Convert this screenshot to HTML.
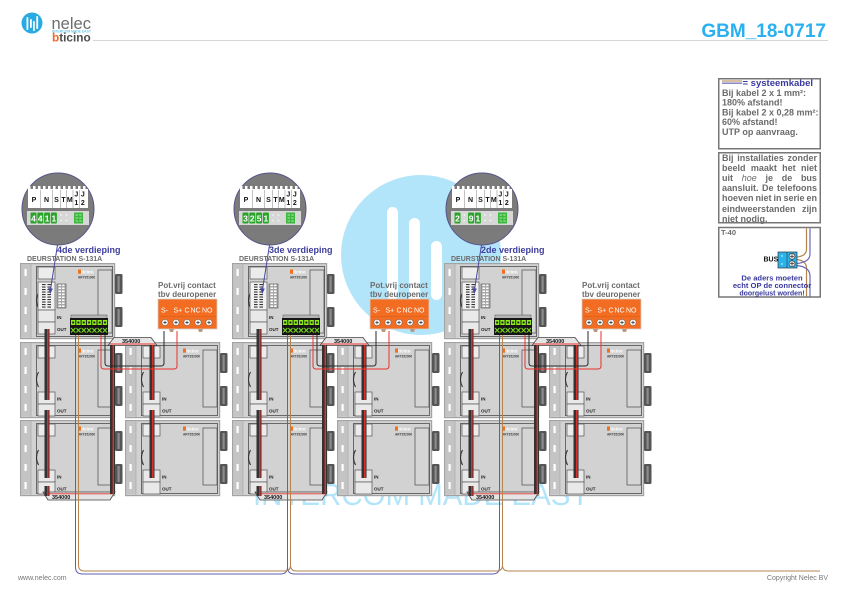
<!DOCTYPE html>
<html><head><meta charset="utf-8">
<style>
html,body{margin:0;padding:0;background:#fff;}
body{width:841px;height:595px;overflow:hidden;position:relative;font-family:"Liberation Sans",Arial,sans-serif;}
svg{position:absolute;left:0;top:0;}
.lv{font:bold 9px "Liberation Sans",sans-serif;fill:#3d3d9c}
.dn{font:bold 7px "Liberation Sans",sans-serif;fill:#6a6a6a}
.pv{font:bold 8px "Liberation Sans",sans-serif;fill:#6a6a6a}
.sl{font:7px "Liberation Sans",sans-serif;fill:#fff}
.cn{font:bold 5.5px "Liberation Sans",sans-serif;fill:#111}
.io{font:bold 4.5px "Liberation Sans",sans-serif;fill:#222}
.tc{font:bold 4.6px "Liberation Sans",sans-serif;fill:#fff}
.ar{font:bold 3.2px "Liberation Sans",sans-serif;fill:#444}
.cl{font:bold 7px "Liberation Sans",sans-serif;fill:#111;text-anchor:middle}
.dg{font:bold 8.5px "Liberation Sans",sans-serif;fill:#fff;text-anchor:middle}
.bx{font:bold 9px "Liberation Sans",sans-serif;fill:#6b6b6b}
.bb{font:bold 7.6px "Liberation Sans",sans-serif;fill:#3838a0;text-anchor:middle}
.j{position:absolute;left:722px;width:95px;font:bold 9px "Liberation Sans",sans-serif;color:#6b6b6b;line-height:10.2px;}
.ln{display:flex;justify-content:space-between;height:10.2px;white-space:nowrap;}
</style></head>
<body>
<svg width="841" height="595" viewBox="0 0 841 595" xmlns="http://www.w3.org/2000/svg" font-family="Liberation Sans, Arial, sans-serif">
<defs>
 <pattern id="lad" x="22" y="21" width="9" height="2.5" patternUnits="userSpaceOnUse"><rect width="3.6" height="1.1" fill="#333"/><rect x="5.4" width="3.6" height="1.1" fill="#333"/></pattern>
 <pattern id="cw" x="37" y="21" width="9" height="3" patternUnits="userSpaceOnUse"><rect x="1.5" y="0.5" width="2.5" height="1.5" fill="#fff"/><rect x="5" y="0.5" width="2.5" height="1.5" fill="#fff"/></pattern>
 <pattern id="gt" x="50.5" y="57" width="5.3" height="6" patternUnits="userSpaceOnUse"><rect x="0.5" width="4.3" height="5" fill="#8ef01c"/><rect x="1.7" y="1.5" width="1.9" height="2" fill="#1a1a1a"/></pattern>
 <pattern id="gx" x="50.5" y="64.5" width="5.3" height="6" patternUnits="userSpaceOnUse"><path d="M0.5,0.5 L4.8,5 M4.8,0.5 L0.5,5" stroke="#7be01c" stroke-width="1"/></pattern>
 <pattern id="teeth" x="28" y="0" width="5" height="4" patternUnits="userSpaceOnUse"><rect width="2.5" height="4" fill="#fff"/></pattern>

 <g id="mb">
  <rect x="0.6" y="0.6" width="94" height="75" fill="#d2d2d2" stroke="#a3a3a3" stroke-width="1.2"/>
  <rect x="1.5" y="1.5" width="9.5" height="73" fill="#c4c4c4"/>
  <line x1="11" y1="1" x2="11" y2="75" stroke="#a9a9a9" stroke-width="0.7"/>
  <rect x="4.5" y="6" width="2.2" height="7" fill="#fff"/>
  <rect x="4.5" y="25" width="2.2" height="7" fill="#fff"/>
  <rect x="4.5" y="44" width="2.2" height="7" fill="#fff"/>
  <rect x="4.5" y="62" width="2.2" height="7" fill="#fff"/>
  <rect x="16.5" y="3.5" width="76" height="70" fill="none" stroke="#3c3c3c" stroke-width="0.7"/>
  <path d="M18.5,30 Q14.5,37.5 18.5,45" fill="none" stroke="#333" stroke-width="1.1"/>
  <rect x="95" y="11" width="7.5" height="20" rx="1.2" fill="#555"/>
  <rect x="97.5" y="13" width="2.2" height="16" fill="#8c8c8c"/>
  <rect x="95" y="44" width="7.5" height="20" rx="1.2" fill="#555"/>
  <rect x="97.5" y="46" width="2.2" height="16" fill="#8c8c8c"/>
 </g>
 <g id="m2">
  <use href="#mb"/>
  <rect x="18" y="4" width="17" height="12" fill="#ececec" stroke="#555" stroke-width="0.7"/>
  <rect x="78" y="8" width="14" height="57" fill="#d5d5d5" stroke="#4a4a4a" stroke-width="0.7"/>
  <rect x="18" y="50" width="17" height="12" fill="#e9e9e9" stroke="#555" stroke-width="0.7"/>
  <rect x="18" y="62" width="17" height="12" fill="#e9e9e9" stroke="#555" stroke-width="0.7"/>
  <rect x="58" y="6.5" width="3" height="4.2" fill="#f07020"/>
 </g>
 <g id="ds">
  <use href="#mb"/>
  <rect x="18" y="4" width="17" height="12" fill="#ececec" stroke="#555" stroke-width="0.7"/>
  <rect x="18" y="19" width="17" height="28" fill="#f2f2f2" stroke="#555" stroke-width="0.7"/>
  <rect x="22" y="21" width="9" height="24" fill="url(#lad)"/>
  <rect x="37" y="21" width="9" height="24" fill="#a8a8a8" stroke="#555" stroke-width="0.6"/>
  <rect x="37" y="21" width="9" height="24" fill="url(#cw)"/>
  <rect x="18" y="47" width="17" height="12" fill="#e9e9e9" stroke="#555" stroke-width="0.7"/>
  <rect x="18" y="59" width="17" height="12" fill="#e9e9e9" stroke="#555" stroke-width="0.7"/>
  <rect x="78" y="7" width="14" height="63" fill="#d5d5d5" stroke="#4a4a4a" stroke-width="0.7"/>
  <rect x="58" y="6.5" width="3" height="4.2" fill="#f07020"/>
  <rect x="51" y="52" width="36" height="4" fill="#b5b5b5" stroke="#555" stroke-width="0.5"/>
  <rect x="50" y="55" width="38" height="17" fill="#151515"/>
  <rect x="50.5" y="57" width="37" height="6" fill="url(#gt)"/>
  <rect x="50.5" y="64.5" width="37" height="6" fill="url(#gx)"/>
 </g>

 <g id="G">
  <use href="#ds" x="20" y="263"/>
  <use href="#m2" x="20" y="342"/>
  <use href="#m2" x="20" y="420"/>
  <use href="#m2" x="125" y="342"/>
  <use href="#m2" x="125" y="420"/>
  <!-- connectors -->
  <path d="M108,345.5 L114,337.5 H151 L157,345.5Z" fill="#e4e4e4" stroke="#444" stroke-width="0.8"/>
  <line x1="109" y1="344" x2="156" y2="344" stroke="#e8322b" stroke-width="0.9"/>
  <path d="M43,492 H115 L110,500 H48Z" fill="#e4e4e4" stroke="#444" stroke-width="0.8"/>
  <line x1="44" y1="493.8" x2="114" y2="493.8" stroke="#e8322b" stroke-width="0.9"/>
  <!-- cables -->
  <path d="M47,329V400M47,410V478M47,486V496M112.5,345V494M152,345V400M152,410V478" stroke="#333" stroke-width="5" fill="none"/>
  <path d="M47.8,329V400M47.8,410V478M47.8,486V496M113.3,345V494M152.8,345V400M152.8,410V478" stroke="#e8322b" stroke-width="1.4" fill="none"/>
  <!-- wires -->
  <path d="M101,335V366Q101,369 104,369H174Q177,369 177,366V331" fill="none" stroke="#e8322b" stroke-width="1"/>
  <path d="M105,335V363Q105,366 108,366H161Q164,366 164,363V331" fill="none" stroke="#2a2a2a" stroke-width="1"/>
  <!-- orange box -->
  <rect x="158" y="299" width="59" height="30" fill="#f26d21" stroke="#cfcfcf" stroke-width="0.8"/>
  <line x1="158.5" y1="316.5" x2="216.5" y2="316.5" stroke="#d85a12" stroke-width="0.6"/>
  <g fill="#fff" stroke="#555" stroke-width="0.5">
   <circle cx="165" cy="322.5" r="3.1"/><circle cx="176" cy="322.5" r="3.1"/><circle cx="187" cy="322.5" r="3.1"/><circle cx="198" cy="322.5" r="3.1"/><circle cx="209" cy="322.5" r="3.1"/>
  </g>
  <path d="M163.3,322.5h3.4M165,320.8v3.4M174.3,322.5h3.4M176,320.8v3.4M185.3,322.5h3.4M187,320.8v3.4M196.3,322.5h3.4M198,320.8v3.4M207.3,322.5h3.4M209,320.8v3.4" stroke="#333" stroke-width="0.8"/>
  <path d="M169,329h5l-1,3h-3z" fill="#b89a80"/>
  <path d="M198,329h5l-1,3h-3z" fill="#b89a80"/>
  <!-- callout -->
  <circle cx="58" cy="209" r="36" fill="#7b7b7b" stroke="#55558a" stroke-width="1"/>
  <rect x="28" y="189" width="60" height="19" fill="#fff"/>
  <rect x="28" y="186" width="60" height="3" fill="url(#teeth)"/>
  <path d="M40.5,190V208M52.5,190V208M60.5,190V208M66.5,190V208M73,190V208M79.5,190V208" stroke="#9a9a9a" stroke-width="0.6"/>
  <rect x="27" y="211" width="62" height="14" fill="#d7d7d7"/>
  <rect x="74" y="212.5" width="9" height="11" fill="#3cb83c"/>
  <path d="M75.5,215h2.5M79.2,215h2.5M75.5,218h2.5M79.2,218h2.5M75.5,221h2.5M79.2,221h2.5" stroke="#d8f5d8" stroke-width="0.8"/>
  <g fill="#f4fff0"><circle cx="61" cy="215" r="0.8"/><circle cx="61" cy="220.5" r="0.8"/><circle cx="66.5" cy="215" r="0.8"/><circle cx="66.5" cy="220.5" r="0.8"/></g>
  <path d="M57.5,245 L50.6,289" stroke="#4848a0" stroke-width="1" fill="none"/>
  <path d="M48.2,288 L50.3,294 L52.8,288.6Z" fill="#4848a0"/>
 </g>
</defs>

<!-- watermark -->
<circle cx="421" cy="255" r="80" fill="#b3e5fa"/>
<rect x="387" y="207" width="11" height="93" rx="5.5" fill="#fff"/>
<rect x="409" y="218" width="11" height="100" rx="5.5" fill="#fff"/>
<rect x="431" y="241" width="11" height="59" rx="5.5" fill="#fff"/>
<text x="253" y="505" font-size="31" fill="#b3e5fa" textLength="337" lengthAdjust="spacingAndGlyphs">INTERCOM MADE EASY</text>

<!-- header -->
<circle cx="32" cy="23" r="10.5" fill="#29abe2"/>
<rect x="26.5" y="17" width="1.8" height="13" rx="0.9" fill="#fff"/>
<rect x="30" y="19" width="1.8" height="9" rx="0.9" fill="#fff"/>
<rect x="33" y="21" width="1.8" height="10" rx="0.9" fill="#fff"/>
<rect x="36.3" y="16" width="1.8" height="13" rx="0.9" fill="#fff"/>
<text x="51.5" y="29" font-size="16.5" fill="#6d6d6d">nelec</text>
<text x="52" y="32.4" font-size="3.4" fill="#29abe2" textLength="39" lengthAdjust="spacingAndGlyphs">INTERCOM MADE EASY</text>
<text x="52" y="41.5" font-weight="bold" font-size="11.8"><tspan fill="#f26522">b</tspan><tspan fill="#4d4d4d">ticino</tspan></text>
<line x1="93" y1="40.5" x2="828" y2="40.5" stroke="#d6d6d6" stroke-width="1"/>
<text x="826" y="37" text-anchor="end" font-weight="bold" font-size="19" fill="#2ab0f0">GBM_18-0717</text>

<!-- groups -->
<use href="#G"/>
<use href="#G" x="212"/>
<use href="#G" x="424"/>

<!-- group 1 text -->
<g>
 <text x="57" y="253" class="lv">4de verdieping</text>
 <text x="27" y="261" class="dn">DEURSTATION S-131A</text>
 <text x="34" y="202" class="cl">P</text><text x="46.5" y="202" class="cl">N</text><text x="56.5" y="202" class="cl">S</text><text x="63.5" y="202" class="cl">T</text><text x="69.8" y="202" class="cl">M</text>
 <text x="76.3" y="196.5" class="cl">J</text><text x="76.3" y="205" class="cl">1</text><text x="82.8" y="196.5" class="cl">J</text><text x="82.8" y="205" class="cl">2</text>
 <rect x="30.5" y="212.5" width="6" height="11" rx="1" fill="#2aa52a"/><rect x="37.3" y="212.5" width="6" height="11" rx="1" fill="#2aa52a"/><rect x="44.1" y="212.5" width="6" height="11" rx="1" fill="#2aa52a"/><rect x="50.9" y="212.5" width="6" height="11" rx="1" fill="#2aa52a"/>
 <text x="33.5" y="221.5" class="dg">4</text><text x="40.3" y="221.5" class="dg">4</text><text x="47.1" y="221.5" class="dg">1</text><text x="53.9" y="221.5" class="dg">1</text>
 <text x="158" y="288" class="pv">Pot.vrij contact</text><text x="158" y="297" class="pv">tbv deuropener</text>
 <text x="161" y="312.5" class="sl">S-</text><text x="173.5" y="312.5" class="sl">S+</text><text x="184.5" y="312.5" class="sl">C</text><text x="190.5" y="312.5" class="sl">NC</text><text x="202" y="312.5" class="sl">NO</text>
 <text x="122" y="343" class="cn">354000</text><text x="52" y="499" class="cn">354000</text>
 <g transform="translate(20,263)"><text x="37" y="56" class="io">IN</text><text x="37" y="68" class="io">OUT</text><text x="61.3" y="10.6" class="tc">ticino</text><text x="58" y="15.5" class="ar">ART351000</text></g>
 <g transform="translate(20,342)"><text x="37" y="58.5" class="io">IN</text><text x="37" y="70.5" class="io">OUT</text><text x="61.3" y="10.6" class="tc">ticino</text><text x="58" y="15.5" class="ar">ART352000</text></g>
 <g transform="translate(20,420)"><text x="37" y="58.5" class="io">IN</text><text x="37" y="70.5" class="io">OUT</text><text x="61.3" y="10.6" class="tc">ticino</text><text x="58" y="15.5" class="ar">ART352000</text></g>
 <g transform="translate(125,342)"><text x="37" y="58.5" class="io">IN</text><text x="37" y="70.5" class="io">OUT</text><text x="61.3" y="10.6" class="tc">ticino</text><text x="58" y="15.5" class="ar">ART352000</text></g>
 <g transform="translate(125,420)"><text x="37" y="58.5" class="io">IN</text><text x="37" y="70.5" class="io">OUT</text><text x="61.3" y="10.6" class="tc">ticino</text><text x="58" y="15.5" class="ar">ART352000</text></g>
</g>

<!-- group 2 text -->
<g transform="translate(212,0)">
 <text x="57" y="253" class="lv">3de verdieping</text>
 <text x="27" y="261" class="dn">DEURSTATION S-131A</text>
 <text x="34" y="202" class="cl">P</text><text x="46.5" y="202" class="cl">N</text><text x="56.5" y="202" class="cl">S</text><text x="63.5" y="202" class="cl">T</text><text x="69.8" y="202" class="cl">M</text>
 <text x="76.3" y="196.5" class="cl">J</text><text x="76.3" y="205" class="cl">1</text><text x="82.8" y="196.5" class="cl">J</text><text x="82.8" y="205" class="cl">2</text>
 <rect x="30.5" y="212.5" width="6" height="11" rx="1" fill="#2aa52a"/><rect x="37.3" y="212.5" width="6" height="11" rx="1" fill="#2aa52a"/><rect x="44.1" y="212.5" width="6" height="11" rx="1" fill="#2aa52a"/><rect x="50.9" y="212.5" width="6" height="11" rx="1" fill="#2aa52a"/>
 <text x="33.5" y="221.5" class="dg">3</text><text x="40.3" y="221.5" class="dg">2</text><text x="47.1" y="221.5" class="dg">5</text><text x="53.9" y="221.5" class="dg">1</text>
 <text x="158" y="288" class="pv">Pot.vrij contact</text><text x="158" y="297" class="pv">tbv deuropener</text>
 <text x="161" y="312.5" class="sl">S-</text><text x="173.5" y="312.5" class="sl">S+</text><text x="184.5" y="312.5" class="sl">C</text><text x="190.5" y="312.5" class="sl">NC</text><text x="202" y="312.5" class="sl">NO</text>
 <text x="122" y="343" class="cn">354000</text><text x="52" y="499" class="cn">354000</text>
 <g transform="translate(20,263)"><text x="37" y="56" class="io">IN</text><text x="37" y="68" class="io">OUT</text><text x="61.3" y="10.6" class="tc">ticino</text><text x="58" y="15.5" class="ar">ART351000</text></g>
 <g transform="translate(20,342)"><text x="37" y="58.5" class="io">IN</text><text x="37" y="70.5" class="io">OUT</text><text x="61.3" y="10.6" class="tc">ticino</text><text x="58" y="15.5" class="ar">ART352000</text></g>
 <g transform="translate(20,420)"><text x="37" y="58.5" class="io">IN</text><text x="37" y="70.5" class="io">OUT</text><text x="61.3" y="10.6" class="tc">ticino</text><text x="58" y="15.5" class="ar">ART352000</text></g>
 <g transform="translate(125,342)"><text x="37" y="58.5" class="io">IN</text><text x="37" y="70.5" class="io">OUT</text><text x="61.3" y="10.6" class="tc">ticino</text><text x="58" y="15.5" class="ar">ART352000</text></g>
 <g transform="translate(125,420)"><text x="37" y="58.5" class="io">IN</text><text x="37" y="70.5" class="io">OUT</text><text x="61.3" y="10.6" class="tc">ticino</text><text x="58" y="15.5" class="ar">ART352000</text></g>
</g>

<!-- group 3 text -->
<g transform="translate(424,0)">
 <text x="57" y="253" class="lv">2de verdieping</text>
 <text x="27" y="261" class="dn">DEURSTATION S-131A</text>
 <text x="34" y="202" class="cl">P</text><text x="46.5" y="202" class="cl">N</text><text x="56.5" y="202" class="cl">S</text><text x="63.5" y="202" class="cl">T</text><text x="69.8" y="202" class="cl">M</text>
 <text x="76.3" y="196.5" class="cl">J</text><text x="76.3" y="205" class="cl">1</text><text x="82.8" y="196.5" class="cl">J</text><text x="82.8" y="205" class="cl">2</text>
 <rect x="30.5" y="212.5" width="6" height="11" rx="1" fill="#2aa52a"/><rect x="44.1" y="212.5" width="6" height="11" rx="1" fill="#2aa52a"/><rect x="50.9" y="212.5" width="6" height="11" rx="1" fill="#2aa52a"/>
 <g fill="#f4fff0"><circle cx="40.3" cy="215" r="0.8"/><circle cx="40.3" cy="220.5" r="0.8"/></g>
 <text x="33.5" y="221.5" class="dg">2</text><text x="47.1" y="221.5" class="dg">9</text><text x="53.9" y="221.5" class="dg">1</text>
 <text x="158" y="288" class="pv">Pot.vrij contact</text><text x="158" y="297" class="pv">tbv deuropener</text>
 <text x="161" y="312.5" class="sl">S-</text><text x="173.5" y="312.5" class="sl">S+</text><text x="184.5" y="312.5" class="sl">C</text><text x="190.5" y="312.5" class="sl">NC</text><text x="202" y="312.5" class="sl">NO</text>
 <text x="122" y="343" class="cn">354000</text><text x="52" y="499" class="cn">354000</text>
 <g transform="translate(20,263)"><text x="37" y="56" class="io">IN</text><text x="37" y="68" class="io">OUT</text><text x="61.3" y="10.6" class="tc">ticino</text><text x="58" y="15.5" class="ar">ART351000</text></g>
 <g transform="translate(20,342)"><text x="37" y="58.5" class="io">IN</text><text x="37" y="70.5" class="io">OUT</text><text x="61.3" y="10.6" class="tc">ticino</text><text x="58" y="15.5" class="ar">ART352000</text></g>
 <g transform="translate(20,420)"><text x="37" y="58.5" class="io">IN</text><text x="37" y="70.5" class="io">OUT</text><text x="61.3" y="10.6" class="tc">ticino</text><text x="58" y="15.5" class="ar">ART352000</text></g>
 <g transform="translate(125,342)"><text x="37" y="58.5" class="io">IN</text><text x="37" y="70.5" class="io">OUT</text><text x="61.3" y="10.6" class="tc">ticino</text><text x="58" y="15.5" class="ar">ART352000</text></g>
 <g transform="translate(125,420)"><text x="37" y="58.5" class="io">IN</text><text x="37" y="70.5" class="io">OUT</text><text x="61.3" y="10.6" class="tc">ticino</text><text x="58" y="15.5" class="ar">ART352000</text></g>
</g>

<!-- system cable (blue / brown) -->
<path d="M75.5,335V567Q75.5,574 82.5,574H280.5Q287.5,574 287.5,567M287.5,335V567Q287.5,574 294.5,574H492.5Q499.5,574 499.5,567M499.5,335V567" fill="none" stroke="#6060b2" stroke-width="1"/>
<path d="M78.5,335V565Q78.5,571 84.5,571H284.5Q290.5,571 290.5,565M290.5,335V565Q290.5,571 296.5,571H496.5Q502.5,571 502.5,565M502.5,335V565Q502.5,571 508.5,571H820" fill="none" stroke="#b5844e" stroke-width="1"/>

<!-- right panel -->
<rect x="718.75" y="78.75" width="101.5" height="70" fill="#fff" stroke="#777" stroke-width="1.5"/>
<line x1="722" y1="81" x2="742" y2="81" stroke="#c09a6c" stroke-width="1.3"/>
<line x1="722" y1="83.2" x2="742" y2="83.2" stroke="#7a7ac0" stroke-width="1.3"/>
<text x="742.5" y="86" font-weight="bold" font-size="9.5" fill="#3838a0">= systeemkabel</text>
<text x="722" y="96" class="bx">Bij kabel 2 x 1 mm²:</text>
<text x="722" y="105.7" class="bx">180% afstand!</text>
<text x="722" y="115.4" class="bx">Bij kabel 2 x 0,28 mm²:</text>
<text x="722" y="125.1" class="bx">60% afstand!</text>
<text x="722" y="134.8" class="bx">UTP op aanvraag.</text>

<rect x="718.75" y="152.75" width="101.5" height="70" fill="#fff" stroke="#777" stroke-width="1.5"/>

<rect x="718.75" y="227.5" width="101.5" height="69.5" fill="#fff" stroke="#777" stroke-width="1.5"/>
<text x="721" y="235" font-weight="bold" font-size="7.5" fill="#6b6b6b">T-40</text>
<path d="M806.5,228.5V249Q806.5,256 797,257M797,259.5Q806.5,261 806.5,268V296.5" fill="none" stroke="#b5844e" stroke-width="1.2"/>
<path d="M810,228.5V254Q810,262 797,263.5M797,265.5Q810,267 810,276V296.5" fill="none" stroke="#6a6ab8" stroke-width="1.2"/>
<rect x="778" y="252" width="19" height="16" fill="#2ab4ee" stroke="#333" stroke-width="0.7"/>
<line x1="787" y1="252" x2="787" y2="268" stroke="#333" stroke-width="0.6"/>
<circle cx="792" cy="256.3" r="3" fill="#e8e8e8" stroke="#222" stroke-width="0.6"/>
<circle cx="792" cy="263.7" r="3" fill="#e8e8e8" stroke="#222" stroke-width="0.6"/>
<path d="M790,256.3h4M792,254.3v4M790,263.7h4M792,261.7v4" stroke="#222" stroke-width="0.7"/>
<circle cx="782" cy="256" r="0.7" fill="#fff"/><circle cx="782" cy="264" r="0.7" fill="#fff"/>
<text x="763.5" y="261.5" font-weight="bold" font-size="7" fill="#111">BUS</text>
<text x="772" y="280.5" class="bb">De aders moeten</text>
<text x="772" y="288" class="bb">echt OP de connector</text>
<text x="772" y="295.5" class="bb" style="font-size:7px">doorgelust worden!</text>

<!-- footer -->
<text x="18" y="580" font-size="7" fill="#777">www.nelec.com</text>
<text x="828" y="580" font-size="7" fill="#777" text-anchor="end">Copyright Nelec BV</text>
</svg>

<div class="j" style="top:152.6px;">
 <div class="ln"><span>Bij</span><span>installaties</span><span>zonder</span></div>
 <div class="ln"><span>beeld</span><span>maakt</span><span>het</span><span>niet</span></div>
 <div class="ln"><span>uit</span><span style="font-style:italic;font-weight:normal">hoe</span><span>je</span><span>de</span><span>bus</span></div>
 <div class="ln"><span>aansluit.</span><span>De</span><span>telefoons</span></div>
 <div class="ln"><span>hoeven</span><span>niet</span><span>in</span><span>serie</span><span>en</span></div>
 <div class="ln"><span>eindweerstanden</span><span>zijn</span></div>
 <div style="height:10.2px;white-space:nowrap;">niet nodig.</div>
</div>
</body></html>
